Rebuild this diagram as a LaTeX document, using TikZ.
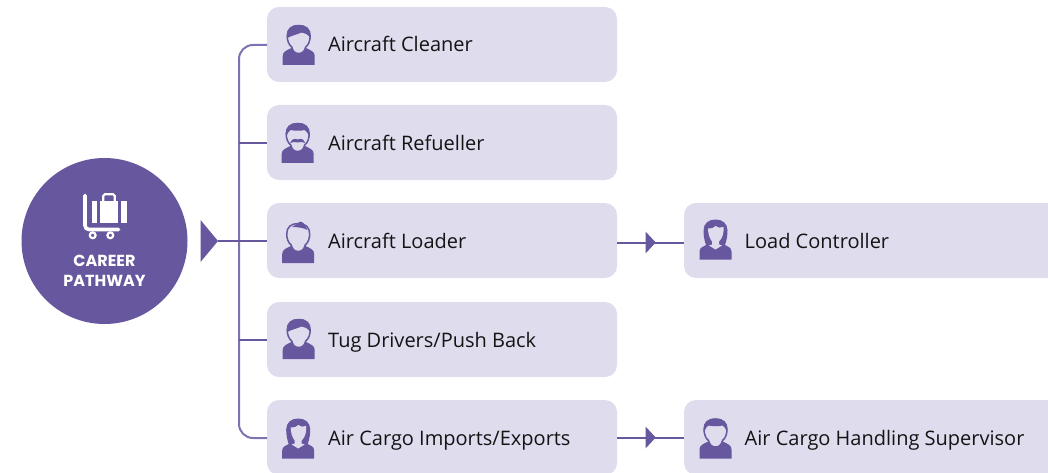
\documentclass[tikz,border=0pt]{standalone}
\usepackage{fontspec}
\setmainfont{Open Sans}
\newfontfamily\hubfont{Poppins}
\definecolor{purp}{HTML}{67579F}
\definecolor{trunkc}{HTML}{7F72B3}
\definecolor{lilac}{HTML}{DFDCEE}
\tikzset{
  rolebox/.style={fill=lilac,rounded corners=12pt,minimum height=75pt,inner sep=0pt,outer sep=0pt},
  mainbox/.style={rolebox,minimum width=350pt},
  nextbox/.style={rolebox,minimum width=380pt},
  label/.style={anchor=base west,inner sep=0pt,text=black!92,font=\fontsize{20pt}{22pt}\selectfont},
  link/.style={draw=purp,line width=2pt},
  hubtext/.style={text=white,inner sep=0pt,font=\hubfont\bfseries\fontsize{16pt}{18pt}\selectfont},
  pics/bust/.style={code={
    \fill[purp] (-16,40) -- (-16,31) .. controls (-16,27) and (-13,25.5) .. (-6,22.5) -- (0,27) -- (6,22.5) .. controls (13,25.5) and (16,27) .. (16,31) -- (16,40) -- cycle;
    \path[fill=lilac,draw=purp,line width=1.5pt] (0,28.5) .. controls (-4,28.5) and (-6,26) .. (-7,22) .. controls (-10,20) and (-11.5,15) .. (-11.5,11) .. controls (-11.5,4) and (-7,0.5) .. (0,0.5) .. controls (7,0.5) and (11.5,4) .. (11.5,11) .. controls (11.5,15) and (10,20) .. (7,22) .. controls (6,26) and (4,28.5) .. (0,28.5) -- cycle;
  }},
  pics/hairswept/.style={code={
    \fill[purp] (-11.5,13) .. controls (-12.5,4) and (-8,0) .. (0,0) .. controls (8,0) and (12,4) .. (11.5,13) .. controls (9,9) and (6,8) .. (3,7.5) .. controls (-2,9.5) and (-8,11) .. (-11.5,13) -- cycle;
  }},
  pics/haircap/.style={code={
    \fill[purp] (-11.5,14) .. controls (-12.5,4) and (-8,0) .. (0,0) .. controls (8,0) and (12.5,4) .. (11.5,14) .. controls (10,10) and (9,8) .. (7,7) .. controls (3,8) and (-3,8) .. (-7,7) .. controls (-9,8) and (-10,10) .. (-11.5,14) -- cycle;
  }},
  pics/tuft/.style={code={
    \fill[purp] (-6,4) .. controls (-3,1.5) and (0,1) .. (2,-1.5) .. controls (3,-1) and (3,0) .. (4,-1) .. controls (6,1) and (8,3) .. (9,7) .. controls (6,5) and (0,4) .. (-6,4) -- cycle;
  }},
  pics/moustache/.style={code={
    \fill[purp] (-7.5,20) .. controls (-6,16) and (-3,15) .. (0,16.5) .. controls (3,15) and (6,16) .. (7.5,20) .. controls (5,18.5) and (3,19) .. (0,19.5) .. controls (-3,19) and (-5,18.5) .. (-7.5,20) -- cycle;
  }},
  pics/woman/.style={code={
    \fill[purp] (-16,40) -- (-16,32) .. controls (-16,28) and (-12,27) .. (-9.5,25.5) .. controls (-11.5,20) and (-12,15) .. (-12,11) .. controls (-12,4) and (-7,0) .. (0,0) .. controls (7,0) and (12,4) .. (12,11) .. controls (12,15) and (11.5,20) .. (9.5,25.5) .. controls (12,27) and (16,28) .. (16,32) -- (16,40) -- cycle;
    \fill[lilac] (-7.5,9) .. controls (-3,9) and (-1,8) .. (0,6.5) .. controls (2,8) and (5,9) .. (8,7.5) .. controls (8.5,13) and (7,19) .. (3.5,22) -- (3.5,25) -- (6.5,26) -- (0,30) -- (-6.5,26) -- (-3.5,25) -- (-3.5,22) .. controls (-6,19) and (-7.5,14) .. (-7.5,9) -- cycle;
  }},
}
\begin{document}
\begin{tikzpicture}[x=1pt,y=-1pt]
\useasboundingbox (0,0) rectangle (1048,473);
\clip (0,0) rectangle (1048,473);
\node[mainbox] (cleaner) at (442,44.5) {};
\node[mainbox] (refueller) at (442,142.5) {};
\node[mainbox] (loader) at (442,240.5) {};
\node[mainbox] (tug) at (442,339.5) {};
\node[mainbox] (cargo) at (442,437.5) {};
\node[nextbox] (controller) at (874,240.5) {};
\node[nextbox] (supervisor) at (874,437.5) {};
\node[circle,fill=purp,minimum size=166pt,inner sep=0pt,outer sep=0pt] (hub) at (104.5,241) {};
\node[hubtext] (hubA) at (104.5,260.5) {CAREER};
\node[hubtext] (hubB) at (104.5,281) {PATHWAY};
\draw[white,line width=3.6pt,line cap=round,rounded corners=4pt] (85,195.5) -- (85,229.5) -- (118.5,229.5);
\draw[white,line width=2.2pt] (92.7,235.3) circle (2.9);
\draw[white,line width=2.2pt] (110.3,235.3) circle (2.9);
\fill[white] (92.3,200.7) rectangle (96.8,223);
\fill[white] (100,200.7) rectangle (118.4,223);
\fill[white] (120.8,200.7) rectangle (126.7,223);
\draw[white,line width=2.2pt,rounded corners=1.5pt] (103.3,201) -- (103.3,194.3) -- (114.7,194.3) -- (114.7,201);
\coordinate (tip) at (218,241);
\coordinate (trunkTop) at (239,45);
\coordinate (trunkBot) at (239,438);
\coordinate (forkB) at (239,143.5);
\coordinate (forkD) at (239,340);
\fill[purp] (200.5,220) -- (tip) -- (200.5,262) -- cycle;
\draw[draw=trunkc,line width=2pt,rounded corners=14pt] (cleaner.west |- trunkTop) -- (trunkTop) -- (trunkBot) -- (cargo.west |- trunkBot);
\draw[link] (forkB) -- (refueller.west |- forkB);
\draw[link] (forkD) -- (tug.west |- forkD);
\draw[link] (tip) -- (loader.west |- tip);
\coordinate (midA) at (655.7,242.5);
\coordinate (midB) at (655.7,437.5);
\draw[link] (loader.east |- midA) -- (controller.west |- midA);
\draw[link] (cargo.east |- midB) -- (supervisor.west |- midB);
\fill[purp] (645.7,231.7) -- (midA) -- (645.7,253.3) -- cycle;
\fill[purp] (645.7,426.7) -- (midB) -- (645.7,448.3) -- cycle;
\node[label] (tCleaner) at (328,52) {Aircraft Cleaner};
\node[label] (tRefueller) at (328,150) {Aircraft Refueller};
\node[label] (tLoader) at (328,248.5) {Aircraft Loader};
\node[label] (tTug) at (328,347) {Tug Drivers/Push Back};
\node[label] (tCargo) at (328,445) {Air Cargo Imports/Exports};
\node[label] (tController) at (744.5,248.5) {Load Controller};
\node[label] (tSupervisor) at (744.5,445) {Air Cargo Handling Supervisor};
\pic at (298.7,25) {bust};
\pic at (298.7,25) {hairswept};
\pic at (297.7,123) {bust};
\pic at (297.7,123) {haircap};
\pic at (297.7,123) {moustache};
\pic at (298.2,223) {bust};
\pic at (298.2,223) {tuft};
\pic at (298.7,319) {bust};
\pic at (298.7,319) {hairswept};
\pic at (298.2,418.5) {woman};
\pic at (715.5,219.5) {woman};
\pic at (715.5,418.5) {bust};
\pic at (715.5,418.5) {haircap};
\end{tikzpicture}
\end{document}
